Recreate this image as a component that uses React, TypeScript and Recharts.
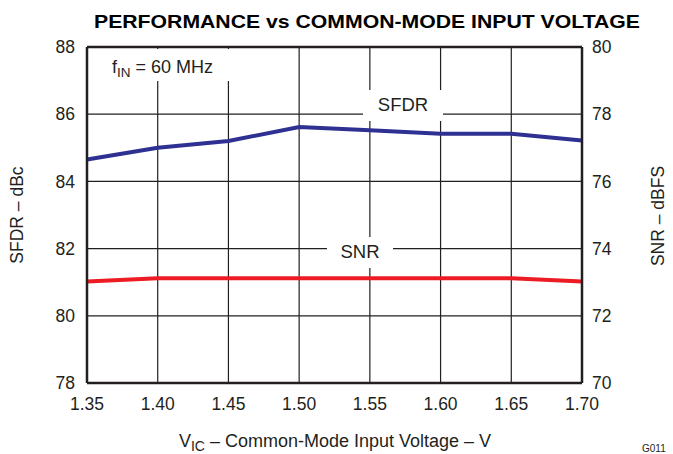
import React from 'react';
import { LineChart, Line, XAxis, YAxis, CartesianGrid, ReferenceLine } from 'recharts';

const voltages = [1.35, 1.4, 1.45, 1.5, 1.55, 1.6, 1.65, 1.7];
const sfdrValues = [84.65, 85.0, 85.2, 85.62, 85.52, 85.42, 85.42, 85.22];
const snrValues = [73.02, 73.12, 73.12, 73.12, 73.12, 73.12, 73.12, 73.02];
const xTicks = [1.35, 1.4, 1.45, 1.5, 1.55, 1.6, 1.65, 1.7];
const leftTicks = [78, 80, 82, 84, 86, 88];
const rightTicks = [70, 72, 74, 76, 78, 80];

const data = voltages.map((v, i) => ({ v, sfdr: sfdrValues[i], snr: snrValues[i] }));

const FONT = '"Liberation Sans", Arial, Helvetica, sans-serif';
const INK = '#231f20';

export default function App() {
  const tickStyle = { fill: INK, fontSize: 17.5, fontFamily: FONT };
  return (
    <div style={{ position: 'absolute', left: 0, top: 0, width: 673, height: 454, background: '#fff', fontFamily: FONT }}>
      <LineChart width={673} height={454} data={data} margin={{ top: 47, right: 0, left: 0, bottom: 41 }}>
        <CartesianGrid yAxisId="left" stroke={INK} strokeWidth={1.2} />
        <XAxis
          dataKey="v"
          type="number"
          domain={[1.35, 1.7]}
          ticks={xTicks}
          tickFormatter={(t: number) => t.toFixed(2)}
          height={30}
          tickLine={false}
          tickSize={0}
          tickMargin={15}
          axisLine={{ stroke: INK, strokeWidth: 2.5 }}
          tick={tickStyle}
          interval={0}
        />
        <YAxis
          yAxisId="left"
          domain={[78, 88]}
          ticks={leftTicks}
          width={87}
          tickLine={false}
          tickSize={0}
          tickMargin={12}
          axisLine={{ stroke: INK, strokeWidth: 2.5 }}
          tick={tickStyle}
          interval={0}
        />
        <YAxis
          yAxisId="right"
          orientation="right"
          domain={[70, 80]}
          ticks={rightTicks}
          width={91}
          tickLine={false}
          tickSize={0}
          tickMargin={10}
          axisLine={{ stroke: INK, strokeWidth: 2.5 }}
          tick={tickStyle}
          interval={0}
        />
        <ReferenceLine yAxisId="left" y={88} stroke={INK} strokeWidth={2.5} />
        <Line yAxisId="left" dataKey="sfdr" stroke="#2e3192" strokeWidth={4} dot={false} isAnimationActive={false} />
        <Line yAxisId="right" dataKey="snr" stroke="#ed1c24" strokeWidth={4} dot={false} isAnimationActive={false} />
      </LineChart>
      <svg width={673} height={454} style={{ position: 'absolute', left: 0, top: 0, pointerEvents: 'none' }}>
        <text x={94} y={28} textLength={546} lengthAdjust="spacingAndGlyphs" fontFamily={FONT} fontWeight="bold" fontSize={19} fill="#000">
          PERFORMANCE vs COMMON-MODE INPUT VOLTAGE
        </text>
        <rect x={96} y={49} width={140} height={32} fill="#fff" />
        <text x={112} y={73} fontFamily={FONT} fontSize={18} fill={INK}>
          f<tspan fontSize={13.5} dy={4}>IN</tspan><tspan dy={-4}> = 60 MHz</tspan>
        </text>
        <rect x={363} y={90} width={80} height={31} fill="#fff" />
        <text x={403} y={111} textAnchor="middle" fontFamily={FONT} fontSize={18.5} fill={INK}>SFDR</text>
        <rect x={327} y={237} width={66} height={31} fill="#fff" />
        <text x={360} y={258} textAnchor="middle" fontFamily={FONT} fontSize={18.5} fill={INK}>SNR</text>
        <text x={335} y={447} textAnchor="middle" fontFamily={FONT} fontSize={18} fill={INK}>
          V<tspan fontSize={14} dy={4}>IC</tspan><tspan dy={-4}> – Common-Mode Input Voltage – V</tspan>
        </text>
        <text transform="translate(23,215) rotate(-90)" textAnchor="middle" fontFamily={FONT} fontSize={17.5} fill={INK}>
          SFDR – dBc
        </text>
        <text transform="translate(664,216) rotate(-90)" textAnchor="middle" fontFamily={FONT} fontSize={17.5} fill={INK}>
          SNR – dBFS
        </text>
        <text x={642} y={452} fontFamily={FONT} fontSize={10} fill={INK}>G011</text>
      </svg>
    </div>
  );
}
